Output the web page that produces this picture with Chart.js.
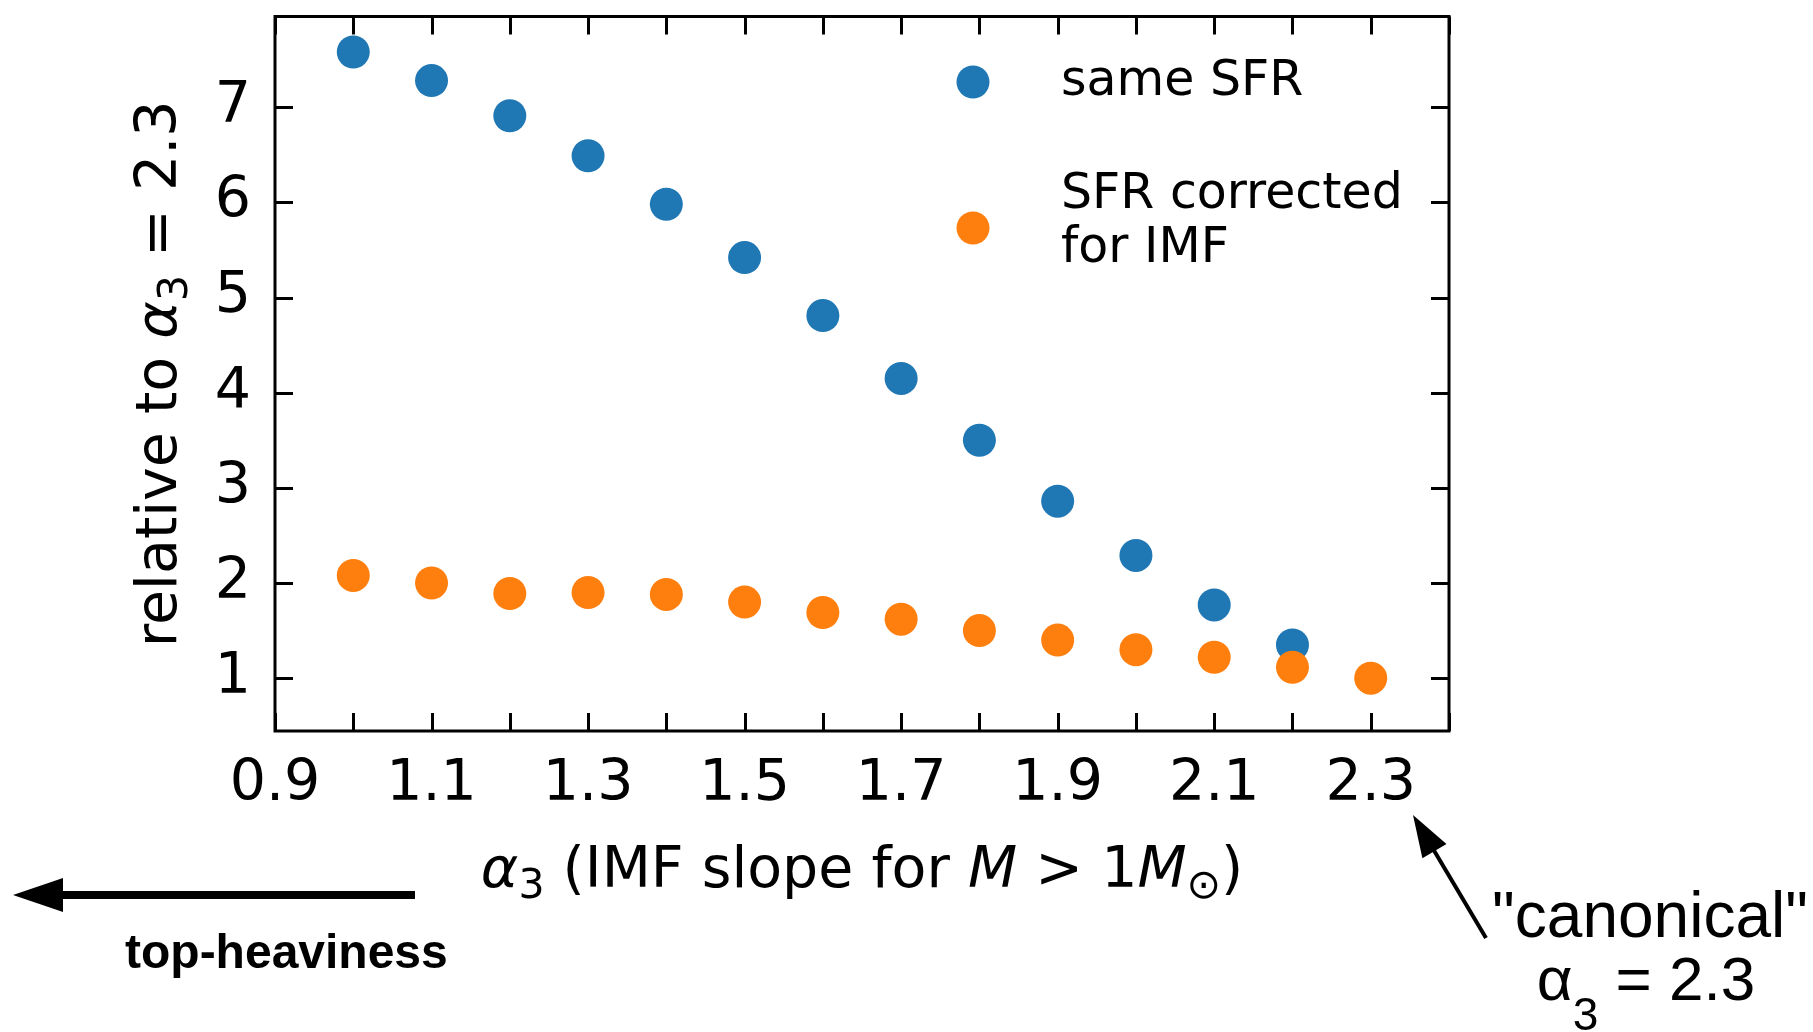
<!DOCTYPE html>
<html>
<head>
<meta charset="utf-8">
<script src="https://cdn.jsdelivr.net/npm/chart.js@4"></script>
<style>
  html, body { margin: 0; padding: 0; background: #fff; }
  #wrap { width: 1813px; height: 1032px; }
</style>
</head>
<body>
<div id="wrap"><canvas id="plot" width="1813" height="1032"></canvas></div>
<script>
// Data
const sameSfrX = [1.0, 1.1, 1.2, 1.3, 1.4, 1.5, 1.6, 1.7, 1.8, 1.9, 2.0, 2.1, 2.2];
const sameSfrY = [7.58, 7.28, 6.91, 6.49, 5.98, 5.42, 4.81, 4.15, 3.50, 2.86, 2.29, 1.77, 1.35];
const correctedX = [1.0, 1.1, 1.2, 1.3, 1.4, 1.5, 1.6, 1.7, 1.8, 1.9, 2.0, 2.1, 2.2, 2.3];
const correctedY = [2.08, 2.00, 1.89, 1.90, 1.88, 1.80, 1.69, 1.62, 1.50, 1.40, 1.30, 1.22, 1.115, 1.00];

// Axis ticks
const xTickValues = [0.9, 1.0, 1.1, 1.2, 1.3, 1.4, 1.5, 1.6, 1.7, 1.8, 1.9, 2.0, 2.1, 2.2, 2.3, 2.4];
const yTickValues = [1, 2, 3, 4, 5, 6, 7];
const X_MIN = 0.9, X_MAX = 2.4;
const Y_MIN = 0.445, Y_MAX = 7.953;

const BLUE = '#1f77b4';
const ORANGE = '#ff7f0e';
const FONT = '"DejaVu Sans"';
const ARIAL = '"Liberation Sans"';

const toPoints = (xs, ys) => xs.map((x, i) => ({x: x, y: ys[i]}));

// draw a run of text pieces (sub/superscripts, italics) as one line
function drawRich(ctx, segs, x, y, baseSize, family, align) {
    const fontFor = s => (s.bold ? 'bold ' : '') + (s.italic ? 'italic ' : '') +
        Math.round(baseSize * (s.size || 1)) + 'px ' + family;
    let total = 0;
    segs.forEach(s => { ctx.font = fontFor(s); total += ctx.measureText(s.t).width; });
    let cx = align === 'left' ? x : x - total / 2;
    ctx.textAlign = 'left';
    ctx.textBaseline = 'alphabetic';
    segs.forEach(s => {
        ctx.font = fontFor(s);
        ctx.fillText(s.t, cx, y + (s.dy || 0));
        cx += ctx.measureText(s.t).width;
    });
}

function arrow(ctx, x0, y0, x1, y1, width, headLen, headHalf) {
    const dx = x1 - x0, dy = y1 - y0;
    const len = Math.hypot(dx, dy);
    const ux = dx / len, uy = dy / len;
    const bx = x1 - ux * headLen, by = y1 - uy * headLen;
    ctx.strokeStyle = '#000';
    ctx.lineWidth = width;
    ctx.beginPath();
    ctx.moveTo(x0, y0);
    ctx.lineTo(bx + ux * 2, by + uy * 2);
    ctx.stroke();
    ctx.fillStyle = '#000';
    ctx.beginPath();
    ctx.moveTo(x1, y1);
    ctx.lineTo(bx - uy * headHalf, by + ux * headHalf);
    ctx.lineTo(bx + uy * headHalf, by - ux * headHalf);
    ctx.closePath();
    ctx.fill();
}

// frame, inward ticks on all four sides, axis titles, legend, annotations
const decorations = {
    id: 'decorations',
    afterDraw: (chart) => {
        const {ctx, chartArea: a} = chart;
        const xs = chart.scales.x, ys = chart.scales.y;
        ctx.save();

        ctx.strokeStyle = '#000';
        ctx.lineWidth = 3;
        ctx.lineCap = 'butt';
        const TL = 18;
        ctx.beginPath();
        xs.ticks.forEach((t, i) => {
            const px = Math.round(xs.getPixelForTick(i)) + 0.5;
            ctx.moveTo(px, a.bottom); ctx.lineTo(px, a.bottom - TL);
            ctx.moveTo(px, a.top); ctx.lineTo(px, a.top + TL);
        });
        ys.ticks.forEach((t, i) => {
            const py = Math.round(ys.getPixelForTick(i)) + 0.5;
            ctx.moveTo(a.left, py); ctx.lineTo(a.left + TL, py);
            ctx.moveTo(a.right, py); ctx.lineTo(a.right - TL, py);
        });
        ctx.stroke();
        ctx.strokeRect(a.left, a.top, a.right - a.left, a.bottom - a.top);

        ctx.fillStyle = '#000';
        // x axis title
        drawRich(ctx, [
            {t: 'α', italic: true},
            {t: '3', size: 0.72, dy: 11},
            {t: ' (IMF slope for '},
            {t: 'M', italic: true},
            {t: ' > 1'},
            {t: 'M', italic: true},
            {t: '⊙', size: 0.72, dy: 11},
            {t: ')'}
        ], (a.left + a.right) / 2, 887, 57, FONT, 'center');

        // y axis title
        ctx.save();
        ctx.translate(176, (a.top + a.bottom) / 2);
        ctx.rotate(-Math.PI / 2);
        drawRich(ctx, [
            {t: 'relative to '},
            {t: 'α', italic: true},
            {t: '3', size: 0.72, dy: 11},
            {t: ' = 2.3'}
        ], 0, 0, 57, FONT, 'center');
        ctx.restore();

        // legend
        chart.data.datasets.forEach((ds, i) => {
            const ly = [82, 228][i];
            ctx.fillStyle = ds.backgroundColor;
            ctx.beginPath();
            ctx.arc(973, ly, 16.5, 0, Math.PI * 2);
            ctx.fill();
            ctx.fillStyle = '#000';
            ctx.font = '49px ' + FONT;
            ctx.textAlign = 'left';
            ctx.textBaseline = 'alphabetic';
            const lines = ds.label.split('\n');
            const firstBase = i === 0 ? 95 : 208;
            lines.forEach((ln, k) => ctx.fillText(ln, 1061, firstBase + k * 54));
        });

        // top-heaviness arrow
        arrow(ctx, 415, 895, 13, 895, 8, 50, 17);
        ctx.fillStyle = '#000';
        ctx.font = 'bold 48px ' + ARIAL;
        ctx.textAlign = 'left';
        ctx.textBaseline = 'alphabetic';
        ctx.fillText('top-heaviness', 125, 968);

        // canonical arrow and text
        arrow(ctx, 1486, 938, 1413, 815, 4, 42, 14);
        ctx.fillStyle = '#000';
        ctx.font = '64px ' + ARIAL;
        ctx.textAlign = 'center';
        ctx.fillText('"canonical"', 1650, 937);
        drawRich(ctx, [
            {t: 'α'},
            {t: '3', size: 0.74, dy: 30},
            {t: ' = 2.3'}
        ], 1646, 1000, 62, ARIAL, 'center');

        ctx.restore();
    }
};

const ctx = document.getElementById('plot').getContext('2d');

new Chart(ctx, {
    type: 'scatter',
    data: {
        datasets: [
            {
                label: 'same SFR',
                data: toPoints(sameSfrX, sameSfrY),
                backgroundColor: BLUE,
                borderColor: BLUE,
                borderWidth: 0,
                pointRadius: 16.5,
                pointHoverRadius: 16.5,
                order: 1
            },
            {
                label: 'SFR corrected\nfor IMF',
                data: toPoints(correctedX, correctedY),
                backgroundColor: ORANGE,
                borderColor: ORANGE,
                borderWidth: 0,
                pointRadius: 16.5,
                pointHoverRadius: 16.5,
                order: 0
            }
        ]
    },
    options: {
        responsive: false,
        animation: false,
        devicePixelRatio: 1,
        events: [],
        layout: {padding: {left: 0, top: 14, right: 364, bottom: 0}},
        scales: {
            x: {
                type: 'linear',
                position: 'bottom',
                min: X_MIN,
                max: X_MAX,
                afterBuildTicks: s => { s.ticks = xTickValues.map(v => ({value: v})); },
                afterFit: s => {
                    s.height = 301;
                    s.paddingLeft = 0; s.paddingRight = 0;
                },
                grid: {display: false, drawTicks: false},
                border: {display: false},
                ticks: {
                    autoSkip: false,
                    maxRotation: 0,
                    minRotation: 0,
                    padding: 20,
                    color: '#000',
                    font: {family: 'DejaVu Sans', size: 57},
                    callback: v => Math.round(v * 10) % 2 === 1 ? v.toFixed(1) : ''
                }
            },
            y: {
                type: 'linear',
                position: 'left',
                min: Y_MIN,
                max: Y_MAX,
                afterBuildTicks: s => { s.ticks = yTickValues.map(v => ({value: v})); },
                afterFit: s => {
                    s.width = 275;
                    s.paddingTop = 0; s.paddingBottom = 0;
                },
                grid: {display: false, drawTicks: false},
                border: {display: false},
                ticks: {
                    padding: 24,
                    color: '#000',
                    font: {family: 'DejaVu Sans', size: 57},
                    callback: v => String(v)
                }
            }
        },
        plugins: {
            legend: {display: false},
            tooltip: {enabled: false}
        }
    },
    plugins: [decorations]
});
</script>
</body>
</html>
